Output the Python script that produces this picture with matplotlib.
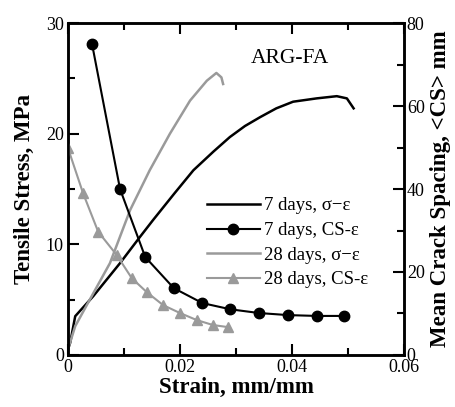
import matplotlib
matplotlib.use("Agg")
import matplotlib.pyplot as plt
from matplotlib.ticker import MultipleLocator

plt.rcParams['font.family'] = ['Liberation Serif', 'DejaVu Serif']

# 7 days stress-strain (left axis)
s7_strain = [0.0, 0.0004, 0.0013, 0.0045, 0.0093, 0.0129, 0.0152, 0.0190, 0.0224, 0.0260, 0.0289, 0.0316, 0.0343, 0.0372, 0.0402, 0.0444, 0.048, 0.0498, 0.0510]
s7_stress = [0.5, 1.1, 3.5, 5.3, 8.3, 10.7, 12.2, 14.6, 16.7, 18.4, 19.7, 20.7, 21.5, 22.3, 22.9, 23.2, 23.4, 23.2, 22.3]

# 28 days stress-strain (left axis)
s28_strain = [0.0, 0.0013, 0.0039, 0.0075, 0.0111, 0.0146, 0.0182, 0.0218, 0.0248, 0.0265, 0.0274, 0.0277]
s28_stress = [0.5, 2.6, 5.0, 8.3, 13.1, 16.7, 20.0, 23.0, 24.8, 25.5, 25.1, 24.5]

# 7 days crack spacing (right axis)
cs7_strain = [0.0043, 0.0093, 0.0138, 0.0189, 0.024, 0.029, 0.0341, 0.0393, 0.0444, 0.0493]
cs7_spacing = [75.0, 40.0, 23.6, 16.1, 12.5, 11.0, 10.1, 9.6, 9.4, 9.4]

# 28 days crack spacing (right axis)
cs28_strain = [0.0, 0.0027, 0.0054, 0.0087, 0.0114, 0.0141, 0.017, 0.020, 0.023, 0.0259, 0.0286]
cs28_spacing = [49.9, 39.0, 29.7, 24.1, 18.5, 15.1, 12.0, 10.1, 8.4, 7.2, 6.7]

labels = ["7 days, σ−ε", "7 days, CS-ε", "28 days, σ−ε", "28 days, CS-ε"]

gray = '#9a9a9a'

fig = plt.figure(figsize=(4.56, 4.07), dpi=100)
ax = fig.add_axes([0.149, 0.128, 0.737, 0.815])
ax2 = ax.twinx()

l1, = ax.plot(s7_strain, s7_stress, color='black', lw=1.8)
l3, = ax.plot(s28_strain, s28_stress, color=gray, lw=1.8)
l2, = ax2.plot(cs7_strain, cs7_spacing, color='black', lw=1.5, marker='o', ms=7.5)
l4, = ax2.plot(cs28_strain, cs28_spacing, color=gray, lw=1.5, marker='^', ms=6.5)

ax.set_xlim(0, 0.06)
ax.set_ylim(0, 30)
ax2.set_ylim(0, 80)

ax.xaxis.set_minor_locator(MultipleLocator(0.01))
ax.yaxis.set_major_locator(MultipleLocator(10))
ax.yaxis.set_minor_locator(MultipleLocator(5))
ax2.yaxis.set_major_locator(MultipleLocator(20))
ax2.yaxis.set_minor_locator(MultipleLocator(10))

ax.set_xticks([0, 0.02, 0.04, 0.06])
ax.set_xticklabels(['0', '0.02', '0.04', '0.06'])

for a in (ax, ax2):
    a.tick_params(which='major', direction='in', length=8, width=1.5, labelsize=13, pad=3)
    a.tick_params(which='minor', direction='in', length=5, width=1.5)
    for sp in a.spines.values():
        sp.set_linewidth(1.8)
ax.tick_params(axis='x', which='both', top=True)
ax2.tick_params(axis='y', pad=2)

ax.set_xlabel('Strain, mm/mm', fontsize=16.5, fontweight='bold', labelpad=1)
ax.set_ylabel('Tensile Stress, MPa', fontsize=16.5, fontweight='bold', labelpad=8)
ax2.set_ylabel('Mean Crack Spacing, <CS> mm', fontsize=16.5, fontweight='bold', labelpad=4)

ax.text(0.0397, 26.8, 'ARG-FA', fontsize=15.5, ha='center', va='center')

leg = ax.legend([l1, l2, l3, l4], labels, loc='upper left',
                bbox_to_anchor=(0.414, 0.475), frameon=False, fontsize=13.5,
                handlelength=2.8, handletextpad=0.25, labelspacing=0.4,
                borderaxespad=0, borderpad=0)

fig.savefig('out.png', dpi=100)
